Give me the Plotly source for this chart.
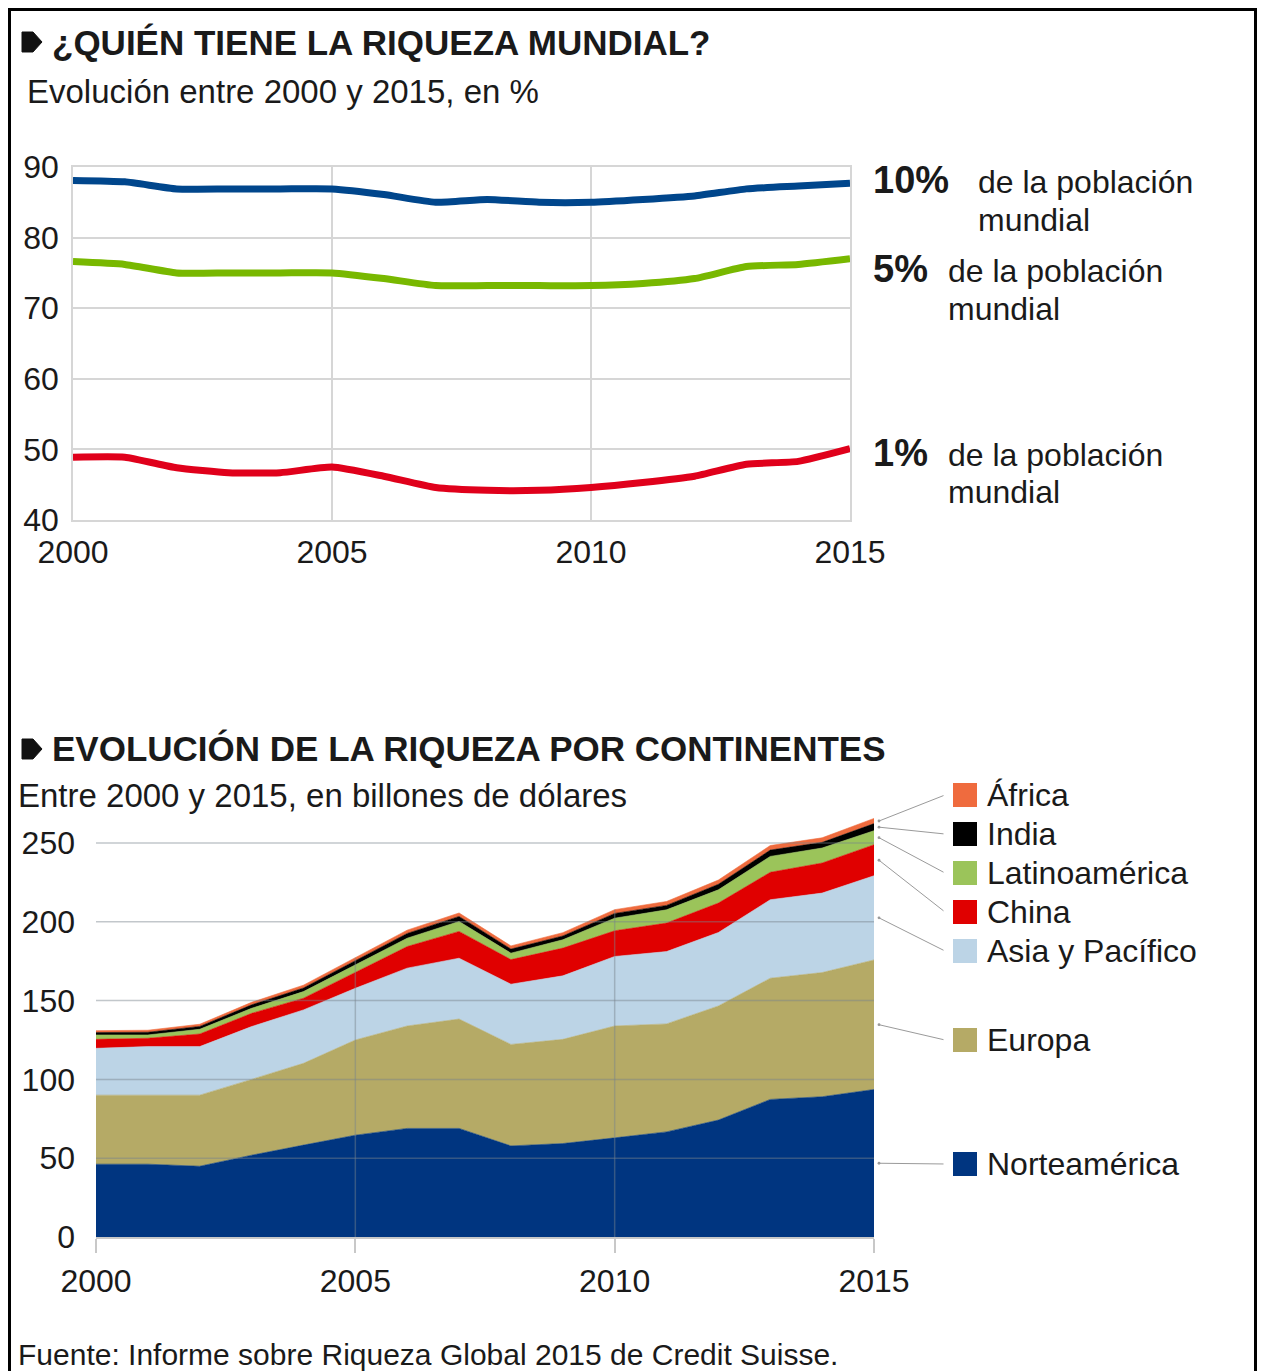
import plotly.graph_objects as go

# page body adds an 8px margin; the figure is sized/positioned to compensate
OFF = 8
W, H = 1266 - OFF, 1371 - OFF

# ---------------- DATA ----------------
years = list(range(2000, 2016))

top10 = [88.1, 87.9, 86.9, 86.9, 86.9, 86.9, 86.1, 85.0, 85.4, 85.0, 85.0, 85.4, 85.9, 86.9, 87.3, 87.7]
top5 = [76.6, 76.2, 75.0, 75.0, 75.0, 75.0, 74.2, 73.2, 73.2, 73.2, 73.2, 73.5, 74.2, 75.9, 76.2, 77.0]
top1 = [48.9, 48.9, 47.4, 46.7, 46.7, 47.5, 46.2, 44.6, 44.2, 44.2, 44.6, 45.3, 46.2, 47.9, 48.3, 50.1]

norteamerica = [46.2, 46.2, 44.9, 51.9, 58.3, 64.6, 68.9, 68.9, 57.8, 59.3, 62.9, 66.7, 74.2, 87.3, 89.0, 93.6]
europa = [43.8, 43.8, 45.1, 48.1, 51.9, 60.4, 65.0, 69.4, 64.4, 66.1, 71.0, 68.5, 72.4, 76.9, 78.8, 82.2]
asia_pacifico = [29.7, 30.8, 30.8, 33.5, 33.9, 32.8, 36.7, 38.6, 38.2, 40.3, 44.1, 45.9, 46.6, 49.8, 50.4, 53.4]
china = [5.7, 5.3, 8.0, 8.4, 7.4, 10.0, 13.7, 17.0, 15.6, 17.6, 16.3, 18.1, 18.7, 17.4, 19.1, 19.7]
latinoamerica = [2.8, 2.1, 3.0, 3.2, 4.2, 4.9, 5.3, 6.3, 4.1, 5.3, 8.0, 8.4, 8.4, 10.1, 9.5, 8.9]
india = [1.5, 1.7, 1.8, 2.2, 2.3, 2.5, 3.0, 3.2, 2.6, 2.4, 3.0, 2.8, 3.5, 4.0, 3.6, 4.5]
africa = [1.2, 1.3, 1.4, 1.6, 1.8, 2.0, 2.1, 2.2, 2.0, 2.1, 2.4, 2.5, 2.7, 2.9, 2.9, 3.3]

top_ticks = [40, 50, 60, 70, 80, 90]
bottom_ticks = [0, 50, 100, 150, 200, 250]
year_ticks = [2000, 2005, 2010, 2015]

series_names = ["Norteamérica", "Europa", "Asia y Pacífico", "China", "Latinoamérica", "India", "África"]
series_vals = [norteamerica, europa, asia_pacifico, china, latinoamerica, india, africa]
series_colors = ["#003580", "#b5aa66", "#bcd4e6", "#e00000", "#9bc45a", "#000000", "#ef6b3e"]

# ---------------- LAYOUT HELPERS ----------------
FONT = "Liberation Sans, Arial, Helvetica, sans-serif"
TXT = "#1a1a1a"


def px(x):
    """screen pixel x -> paper fraction"""
    return (x - OFF) / W


def py(y):
    """screen pixel y -> paper fraction"""
    return 1 - (y - OFF) / H


# top plot area (screen pixels)
T_L, T_R, T_T, T_B = 73, 850, 167, 520
# bottom plot area (screen pixels)
B_L, B_R = 96, 874
B_Y0 = 1237          # pixel of value 0
B_PXU = 1.576        # pixels per unit
B_MAX = 270
B_T = B_Y0 - B_MAX * B_PXU

fig = go.Figure()

# top lines
for vals, col in [(top10, "#00468c"), (top5, "#78b800"), (top1, "#e0001b")]:
    fig.add_trace(go.Scatter(
        x=years, y=vals, mode="lines", xaxis="x", yaxis="y",
        line=dict(color=col, width=7, shape="spline", smoothing=0.5),
        hoverinfo="skip", showlegend=False))

# bottom stacked areas
for name, vals, col in zip(series_names, series_vals, series_colors):
    fig.add_trace(go.Scatter(
        x=years, y=vals, mode="lines", xaxis="x2", yaxis="y2",
        stackgroup="one", fillcolor=col,
        line=dict(color=col, width=0.6),
        name=name, hoverinfo="skip", showlegend=False))

shapes = []
annotations = []

# frame
shapes.append(dict(type="rect", xref="paper", yref="paper",
                   x0=px(9.5), x1=px(1255.5), y0=-0.05, y1=py(9.5),
                   line=dict(color="#000", width=3), fillcolor="rgba(0,0,0,0)"))


# bullets
def bullet(y_top):
    pts = [(22, y_top), (33, y_top), (42, y_top + 10), (33, y_top + 20), (22, y_top + 20)]
    path = "M " + " L ".join(f"{px(a):.5f},{py(b):.5f}" for a, b in pts) + " Z"
    return dict(type="path", xref="paper", yref="paper", path=path,
                fillcolor="#111", line=dict(color="#111", width=1))


shapes.append(bullet(32))
shapes.append(bullet(739))

# bottom gridlines drawn above the areas
GRID_ABOVE = "rgba(120,130,140,0.45)"
for v in bottom_ticks[1:]:
    shapes.append(dict(type="line", xref="x2", yref="y2", x0=years[0], x1=years[-1],
                       y0=v, y1=v, layer="above", line=dict(color=GRID_ABOVE, width=1.5)))
totals = [sum(s[i] for s in series_vals) for i in range(len(years))]
for yr in [2005, 2010]:
    i = years.index(yr)
    shapes.append(dict(type="line", xref="x2", yref="y2", x0=yr, x1=yr,
                       y0=0, y1=totals[i], layer="above", line=dict(color=GRID_ABOVE, width=1.5)))


def ann(text, x, y, size=32, bold=False, anchor="left"):
    if bold:
        text = f"<b>{text}</b>"
    annotations.append(dict(text=text, xref="paper", yref="paper", x=px(x), y=py(y),
                            xanchor=anchor, yanchor="middle", showarrow=False,
                            font=dict(family=FONT, size=size, color=TXT)))


# titles
ann("¿QUIÉN TIENE LA RIQUEZA MUNDIAL?", 50, 42, size=35, bold=True)
ann("Evolución entre 2000 y 2015, en %", 25, 91, size=33)
ann("EVOLUCIÓN DE LA RIQUEZA POR CONTINENTES", 50, 748, size=35, bold=True)
ann("Entre 2000 y 2015, en billones de dólares", 16, 795, size=33)
ann("Fuente: Informe sobre Riqueza Global 2015 de Credit Suisse.", 16, 1354, size=30)

# top-right labels
ann("10%", 871, 180, size=38, bold=True)
ann("de la población", 976, 182)
ann("mundial", 976, 220)
ann("5%", 871, 269, size=38, bold=True)
ann("de la población", 946, 271)
ann("mundial", 946, 309)
ann("1%", 871, 453, size=38, bold=True)
ann("de la población", 946, 455)
ann("mundial", 946, 492)

# legend (top to bottom)
legend_rows = {"África": 795, "India": 834, "Latinoamérica": 873, "China": 912,
               "Asia y Pacífico": 951, "Europa": 1040, "Norteamérica": 1164}
cum = [0.0] * len(years)
mids = {}
for name, vals in zip(series_names, series_vals):
    lo = cum[-1]
    hi = lo + vals[-1]
    mids[name] = (lo + hi) / 2
    cum = [c + v for c, v in zip(cum, vals)]

for name, col in zip(series_names, series_colors):
    ry = legend_rows[name]
    shapes.append(dict(type="rect", xref="paper", yref="paper",
                       x0=px(953), x1=px(977), y0=py(ry + 12), y1=py(ry - 12),
                       fillcolor=col, line=dict(width=0)))
    ann(name, 985, ry, size=32)
    # leader line from band to legend
    tail_year = years[0] + (945 - 5 - B_L) / (B_R - B_L) * (years[-1] - years[0])
    tail_val = (B_Y0 - ry) / B_PXU
    annotations.append(dict(x=years[-1], y=mids[name], xref="x2", yref="y2",
                            ax=tail_year, ay=tail_val, axref="x2", ayref="y2",
                            xshift=5, showarrow=True, arrowhead=6, arrowsize=0.7,
                            arrowwidth=1, arrowcolor="#9a9a9a", standoff=0,
                            text=" ", font=dict(size=1)))

GRID = "#d6d6d6"
tickfont = dict(family=FONT, size=32, color=TXT)

fig.update_layout(
    width=W, height=H, autosize=False,
    margin=dict(l=0, r=0, t=0, b=0, pad=0, autoexpand=False),
    paper_bgcolor="white", plot_bgcolor="rgba(0,0,0,0)",
    showlegend=False,
    font=dict(family=FONT, color=TXT),
    xaxis=dict(domain=[px(T_L), px(T_R)], range=[years[0], years[-1]], anchor="y",
               tickvals=year_ticks, showgrid=True, gridcolor=GRID, gridwidth=1.5,
               showline=True, mirror=True, linecolor=GRID, linewidth=1.5, automargin=False,
               zeroline=False, ticks="", tickfont=tickfont, ticklabelstandoff=3),
    yaxis=dict(domain=[py(T_B), py(T_T)], range=[top_ticks[0], top_ticks[-1]], anchor="x",
               tickvals=top_ticks, showgrid=True, gridcolor=GRID, gridwidth=1.5,
               showline=True, mirror=True, linecolor=GRID, linewidth=1.5, automargin=False,
               zeroline=False, ticks="", tickfont=tickfont, ticklabelstandoff=6),
    xaxis2=dict(domain=[px(B_L), px(B_R)], range=[years[0], years[-1]], anchor="y2",
                tickvals=year_ticks, showgrid=False, showline=True, linecolor="#c8c8c8",
                linewidth=1.5, zeroline=False, ticks="outside", ticklen=14, automargin=False,
                tickcolor="#c8c8c8", tickwidth=1.5, tickfont=tickfont, ticklabelstandoff=1),
    yaxis2=dict(domain=[py(B_Y0), py(B_T)], range=[0, B_MAX], anchor="x2",
                tickvals=bottom_ticks, showgrid=False, showline=False, zeroline=False,
                automargin=False, ticks="", tickfont=tickfont, ticklabelstandoff=20),
    shapes=shapes,
    annotations=annotations,
)

fig.write_html("out.html")
